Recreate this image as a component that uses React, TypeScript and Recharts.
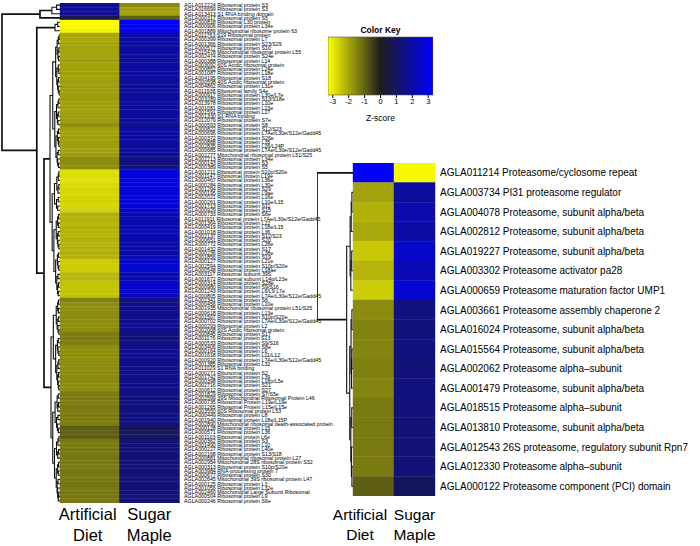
import { BarChart, Bar, Cell, XAxis, YAxis, ComposedChart, Scatter, Area } from 'recharts'

const FONT = '"Liberation Sans", Arial, Helvetica, sans-serif'

const columns = ['Artificial Diet', 'Sugar Maple']

// ribosomal genes (left panel), top to bottom
const riboLabels = [
  'AGLA012224 Ribosomal protein S3', 'AGLA016699 Ribosomal protein S3', 'AGLA013413 S1 RNA binding domain',
  'AGLA000317 Ribosomal protein S5', 'AGLA000818 Ribosomal L30 protein', 'AGLA000906 Ribosomal protein L34e',
  'AGLA001889 Mitochondrial ribosome protein 63', 'AGLA011763 S19 Ribosomal protein', 'AGLA000399 Ribosomal protein L7',
  'AGLA001366 Ribosomal protein S23/S29', 'AGLA000577 Ribosomal protein S10', 'AGLA015478 Mitochondrial ribosomal protein L55',
  'AGLA002474 Ribosomal protein S24e', 'AGLA000388 Ribosomal protein L14', 'AGLA003092 60S Acidic ribosomal protein',
  'AGLA000852 Ribosomal protein L24e', 'AGLA001087 Ribosomal protein L18e', 'AGLA004195 Ribosomal protein S18',
  'AGLA000598 40S Acidic ribosomal protein', 'AGLA004862 Ribosomal protein L31e', 'AGLA011938 Ribosomal family S4e',
  'AGLA000917 Ribosomal protein L30e/L7e', 'AGLA003289 Ribosomal protein S13/S18e', 'AGLA013978 Ribosomal protein L10e',
  'AGLA001081 Ribosomal protein L23e', 'AGLA001591 Ribosomal protein L27', 'AGLA001330 S1 RNA binding',
  'AGLA012079 Ribosomal protein S7e', 'AGLA000593 Ribosomal protein S8', 'AGLA000822 Ribosomal protein S12/S23',
  'AGLA000696 Ribosomal protein L7Ae/L30e/S12e/Gadd45', 'AGLA000372 Ribosomal protein S26e', 'AGLA000888 Ribosomal protein L35',
  'AGLA002835 Ribosomal protein L26/L24P', 'AGLA000685 Ribosomal protein L7Ae/L30e/S12e/Gadd45', 'AGLA002277 Mitochondrial ribosomal protein L51/S25',
  'AGLA002213 Ribosomal protein L34e', 'AGLA000143 Ribosomal protein S3', 'AGLA000389 Ribosomal protein S5',
  'AGLA001211 Ribosomal protein S10p/S20e', 'AGLA001147 Ribosomal protein L19e', 'AGLA000467 Ribosomal protein L36e',
  'AGLA000284 Ribosomal protein L30e', 'AGLA001294 Ribosomal protein S29', 'AGLA000195 Ribosomal protein L9ae',
  'AGLA002021 Ribosomal protein L16e', 'AGLA000261 Ribosomal protein L10e/L15', 'AGLA001713 Ribosomal protein S11',
  'AGLA000929 Ribosomal protein S15', 'AGLA000733 Ribosomal protein S6e', 'AGLA011911 Ribosomal protein L7Ae/L30e/S12e/Gadd45',
  'AGLA001364 Ribosomal protein L22', 'AGLA000419 Ribosomal protein L18e/L15', 'AGLA001018 Ribosomal protein L36',
  'AGLA002137 Ribosomal protein S12/S23', 'AGLA000651 Ribosomal protein S20', 'AGLA000772 Ribosomal protein L28e',
  'AGLA001432 Ribosomal protein S17', 'AGLA000236 Ribosomal protein L38e', 'AGLA001856 Ribosomal protein S19',
  'AGLA000127 Ribosomal protein L21e', 'AGLA002594 Ribosomal protein S10p/S20e', 'AGLA000548 Ribosomal protein L18ae',
  'AGLA003117 Ribosomal subunit 39S', 'AGLA001672 Ribosomal subunit L14p/L23e', 'AGLA000314 Ribosomal protein S28e',
  'AGLA000980 Ribosomal protein S9/S16', 'AGLA001243 Ribosomal protein L6/L9 L7e', 'AGLA000805 Ribosomal protein L7Ae/L30e/S12e/Gadd45',
  'AGLA002341 Ribosomal protein S6', 'AGLA000456 Ribosomal protein L10e', 'AGLA001935 Mitochondrial ribosomal protein L51/S25',
  'AGLA000618 Ribosomal protein L13e', 'AGLA001507 Ribosomal protein S10p/S20e', 'AGLA000702 Ribosomal protein L7Ae/L30e/S12e/Gadd45',
  'AGLA000293 Ribosomal protein L2', 'AGLA002008 60S Acidic ribosomal protein', 'AGLA000845 Ribosomal protein S17',
  'AGLA001176 Ribosomal protein S13', 'AGLA000533 Ribosomal protein S9/S16', 'AGLA003406 Ribosomal protein S8e',
  'AGLA000164 Ribosomal protein L6', 'AGLA001618 Ribosomal protein L11/L12', 'AGLA000920 Ribosomal protein L7Ae/L30e/S12e/Gadd45',
  'AGLA001385 Ribosomal protein L32', 'AGLA011029 S1 RNA binding', 'AGLA000271 Ribosomal protein S2',
  'AGLA001742 Ribosomal protein L39', 'AGLA000398 Ribosomal protein L18p/L5e', 'AGLA002716 Ribosomal protein S21',
  'AGLA000612 Ribosomal protein S27', 'AGLA001829 Ribosomal protein S7/S5e', 'AGLA002599 39S Mitochondrial Ribosomal Protein L46',
  'AGLA000735 Ribosomal Protein L19e/L19e', 'AGLA001265 Ribosomal Protein L15e/L15e', 'AGLA003550 60S Ribosomal protein L53',
  'AGLA000449 Ribosomal protein L8', 'AGLA001940 Ribosomal protein L18e/L15P', 'AGLA002890 Mitochondrial ribosomal death-associated protein',
  'AGLA000128 Ribosomal protein L15', 'AGLA000571 Ribosomal protein L36', 'AGLA001103 Ribosomal protein L6e',
  'AGLA000362 Ribosomal protein S3', 'AGLA001490 Ribosomal protein L10', 'AGLA000227 Ribosomal protein L40e',
  'AGLA002168 Ribosomal protein S13/S18', 'AGLA000881 Mitochondrial ribosomal protein L27', 'AGLA002954 Mitochondrial 28S ribosomal protein S32',
  'AGLA000313 Ribosomal protein S10p/S20e', 'AGLA003984 RNA-processing protein 7', 'AGLA000677 Ribosomal protein S30',
  'AGLA002645 Mitochondrial 39S ribosomal protein L47', 'AGLA000125 Ribosomal protein L3', 'AGLA001056 Ribosomal protein L32e',
  'AGLA002460 Mitochondrial Large Subunit Ribosomal', 'AGLA000504 Ribosomal protein L9', 'AGLA000246 Ribosomal protein S6e',
]

// z-scores, artificial diet column
const riboDiet = [
  1.73, 1.76, 1.78, 0.74, -3.3, -3.25, -3.11, -2.0, -2.03, -1.98,
  -1.96, -2.01, -1.94, -1.91, -1.97, -1.93, -1.89, -1.95, -1.9, -1.87,
  -1.91, -1.88, -1.85, -1.92, -1.89, -1.94, -1.9, -1.86, -1.67, -1.9,
  -1.93, -1.88, -1.91, -1.89, -1.92, -1.86, -1.62, -1.6, -1.63, -2.86,
  -2.8, -2.88, -2.75, -2.7, -2.73, -2.66, -2.64, -2.71, -2.62, -2.15,
  -2.18, -2.22, -2.16, -2.2, -2.26, -2.17, -2.21, -2.19, -2.14, -2.18,
  -2.55, -2.53, -2.57, -2.26, -2.24, -2.42, -2.44, -2.4, -2.43, -1.44,
  -1.62, -1.64, -1.6, -1.63, -1.61, -1.65, -1.62, -1.38, -1.37, -1.4,
  -1.62, -1.64, -1.61, -1.65, -1.63, -1.6, -1.62, -1.58, -1.61, -1.63,
  -1.6, -1.38, -1.37, -1.4, -1.36, -1.39, -1.37, -1.38, -1.4, -0.94,
  -0.96, -0.93, -1.32, -1.34, -1.31, -1.33, -1.3, -1.32, -1.35, -1.31,
  -1.33, -1.32, -1.3, -1.34, -1.32, -1.31, -1.33,
]

// z-scores, sugar maple column
const riboMaple = [
  -1.6, -1.9, -1.93, -0.96, 3.3, 3.24, 2.96, 1.93, 1.94, 1.91,
  1.89, 1.93, 1.87, 1.87, 1.9, 1.88, 1.86, 1.89, 1.87, 1.85,
  1.88, 1.86, 1.83, 1.88, 1.85, 1.89, 1.86, 1.84, 1.65, 1.88,
  1.89, 1.86, 1.87, 1.86, 1.88, 1.84, 1.46, 1.43, 1.47, 2.84,
  2.82, 2.86, 2.77, 2.73, 2.75, 2.7, 2.68, 2.72, 2.66, 2.09,
  2.11, 2.15, 2.09, 2.13, 2.18, 2.1, 2.15, 2.12, 2.08, 2.12,
  2.6, 2.57, 2.62, 2.2, 2.18, 2.5, 2.52, 2.46, 2.49, 1.34,
  1.61, 1.63, 1.6, 1.62, 1.6, 1.63, 1.61, 1.44, 1.43, 1.45,
  1.62, 1.63, 1.61, 1.64, 1.62, 1.6, 1.61, 1.58, 1.6, 1.62,
  1.59, 1.43, 1.42, 1.45, 1.41, 1.44, 1.43, 1.42, 1.44, 0.9,
  0.92, 0.91, 1.32, 1.33, 1.31, 1.33, 1.31, 1.32, 1.34, 1.31,
  1.32, 1.33, 1.3, 1.33, 1.32, 1.31, 1.32,
]

// proteasome genes (right panel)
const protLabels = [
  'AGLA011214 Proteasome/cyclosome repeat', 'AGLA003734 PI31 proteasome regulator',
  'AGLA004078 Proteasome, subunit alpha/beta', 'AGLA002812 Proteasome, subunit alpha/beta',
  'AGLA019227 Proteasome, subunit alpha/beta', 'AGLA003302 Proteasome activator pa28',
  'AGLA000659 Proteasome maturation factor UMP1', 'AGLA003661 Proteasome assembly chaperone 2',
  'AGLA016024 Proteasome, subunit alpha/beta', 'AGLA015564 Proteasome, subunit alpha/beta',
  'AGLA002062 Proteasome alpha\u2013subunit', 'AGLA001479 Proteasome, subunit alpha/beta',
  'AGLA018515 Proteasome alpha\u2013subunit', 'AGLA013810 Proteasome, subunit alpha/beta',
  'AGLA012543 26S proteasome, regulatory subunit Rpn7', 'AGLA012330 Proteasome alpha\u2013subunit',
  'AGLA000122 Proteasome component (PCI) domain',
]
const protDiet = [3.19, -1.93, -2.15, -2.04, -2.48, -2.2, -2.55, -1.6, -1.46, -1.5, -1.43, -1.5, -1.35, -1.35, -1.34, -1.36, -0.94]
const protMaple = [-3.19, 1.87, 2.09, 1.98, 2.53, 2.26, 2.64, 1.43, 1.38, 1.41, 1.34, 1.4, 1.32, 1.32, 1.31, 1.32, 0.94]

// row dendrograms: [merge height, left, right], leaves are row indices
const riboTree = [10,
  [3.45, [1.4, [0.6, 0, 1], 2], 3],
  [4.0,
    [0.86, [0.4, 4, 5], 6],
    [2.76,
      [1.72,
        [1.25,
          [0.75,
            [0.5, [0.3, [0.15, 7, 8], 9], [0.35, [0.2, 10, 11], [0.25, 12, 13]]],
            [0.55, [0.3, 14, [0.2, 15, 16]], [0.4, [0.25, 17, 18], [0.3, 19, [0.15, 20, 21]]]]],
          [0.9,
            [0.6, [0.35, [0.2, 22, 23], 24], [0.45, [0.3, 25, 26], [0.35, 27, 28]]],
            [0.7, [0.45, [0.25, 29, 30], [0.3, 31, [0.2, 32, 33]]], [0.5, [0.3, 34, 35], [0.4, 36, [0.25, 37, 38]]]]]],
        [1.35,
          [0.95,
            [0.55, [0.3, [0.2, 39, 40], 41], [0.35, [0.2, 42, 43], 44]],
            [0.6, [0.3, 45, 46], [0.4, 47, 48]]],
          [1.05,
            [0.65, [0.4, [0.25, 49, 50], [0.3, 51, 52]], [0.45, [0.3, 53, 54], [0.35, 55, [0.2, 56, 57]]]],
            [0.75, [0.45, [0.3, 58, 59], [0.35, 60, [0.2, 61, 62]]], [0.55, [0.35, 63, 64], [0.4, [0.25, 65, 66], [0.3, 67, 68]]]]]]],
      [1.55,
        [1.15,
          [0.65, [0.4, [0.25, 69, 70], [0.3, 71, 72]], [0.5, [0.3, 73, 74], [0.35, 75, [0.2, 76, 77]]]],
          [0.75, [0.45, [0.3, 78, 79], [0.35, 80, [0.2, 81, 82]]], [0.55, [0.35, [0.2, 83, 84], 85], [0.4, [0.25, 86, 87], [0.3, 88, [0.2, 89, 90]]]]]],
        [1.25,
          [0.85, [0.5, [0.3, 91, 92], [0.4, [0.25, 93, 94], 95]], [0.6, [0.35, 96, 97], [0.45, 98, [0.3, 99, 100]]]],
          [0.95,
            [0.6, [0.35, [0.2, 101, 102], 103], [0.4, [0.25, 104, 105], 106]],
            [0.65, [0.4, [0.25, 107, 108], [0.3, 109, 110]], [0.5, [0.35, 111, 112], [0.4, 113, [0.3, [0.2, 114, 115], 116]]]]]]]]]]

const protTree = [10, 0,
  [1.76,
    [0.8, [0.5, [0.3, 1, 2], 3], [0.6, [0.35, 4, 5], 6]],
    [0.9,
      [0.55, [0.3, 7, 8], [0.4, [0.3, 9, 10], 11]],
      [0.6, [0.35, 12, 13], [0.45, 14, [0.3, 15, 16]]]]]]

const keyTicks = [-3, -2, -1, 0, 1, 2, 3]
const zMax = 3.3

const LOW = [255, 255, 0]
const MID = [30, 30, 30]
const HIGH = [0, 0, 255]

function zColor(z: number) {
  const t = Math.max(-1, Math.min(1, z / zMax))
  const end = t < 0 ? LOW : HIGH
  const a = Math.abs(t)
  const c = MID.map((m, k) => Math.round(m + (end[k] - m) * a))
  return `rgb(${c.join(',')})`
}

type Pt = { x: number; y: number }
type Link = { h: number; pts: Pt[] }

// each merge becomes a bracket: child -> node height -> other child
function layoutTree(node: any, links: Link[]): { y: number; h: number } {
  if (typeof node === 'number') return { y: node + 0.5, h: 0 }
  const [h, a, b] = node
  const la = layoutTree(a, links)
  const lb = layoutTree(b, links)
  links.push({
    h,
    pts: [
      { x: la.h, y: la.y },
      { x: h, y: la.y },
      { x: h, y: lb.y },
      { x: lb.h, y: lb.y },
    ],
  })
  return { y: (la.y + lb.y) / 2, h }
}

const noDot = () => <g />

function Dendrogram({ tree, rows, hMax, width, height, top, bottom }: any) {
  const links: Link[] = []
  layoutTree(tree, links)
  return (
    <ComposedChart width={width} height={height} margin={{ top, bottom, left: 0, right: 0 }}>
      <XAxis type="number" dataKey="x" domain={[0, hMax]} reversed hide allowDataOverflow />
      <YAxis type="number" dataKey="y" domain={[0, rows]} reversed hide allowDataOverflow />
      {links.map((l, i) => (
        <Scatter
          key={i}
          data={l.pts}
          line={{ stroke: '#111', strokeWidth: l.h >= 2.5 ? 1.7 : 1.1 }}
          lineType="joint"
          shape={noDot}
          isAnimationActive={false}
        />
      ))}
    </ComposedChart>
  )
}

function ColTick({ x, y, payload, index, size, dy, dxs }: any) {
  const [l1, l2] = String(payload.value).split(' ')
  const cx = x + (dxs ? dxs[index] : 0)
  return (
    <text x={cx} y={y} textAnchor="middle" fontSize={size} fontFamily={FONT} fill="#000">
      <tspan x={cx} dy={dy}>{l1}</tspan>
      <tspan x={cx} dy={size * 1.3}>{l2}</tspan>
    </text>
  )
}

function RowTick({ x, y, payload, labels, size }: any) {
  return (
    <text x={x} y={y} dy="0.36em" textAnchor="start" fontSize={size} fontFamily={FONT} fill="#000">
      {labels[Math.floor(payload.value)]}
    </text>
  )
}

function Heatmap({ labels, diet, maple, height, top, bottom, left, cellWidth, labelWidth, fontSize, labelGap, colSize, colDy, colDx }: any) {
  const rows = labels.length
  const data = columns.map((col) => {
    const o: any = { col }
    labels.forEach((_: string, i: number) => (o[`r${i}`] = 1))
    return o
  })
  const values = [diet, maple]
  return (
    <BarChart
      width={left + cellWidth * 2 + labelWidth}
      height={height}
      data={data}
      margin={{ top, right: 0, left, bottom: 0 }}
      barCategoryGap={0}
      barGap={0}
    >
      <XAxis
        dataKey="col"
        height={bottom}
        axisLine={false}
        tickLine={false}
        tickSize={0}
        tickMargin={0}
        interval={0}
        tick={(p: any) => <ColTick {...p} size={colSize} dy={colDy} dxs={colDx} />}
      />
      <YAxis
        type="number"
        orientation="right"
        domain={[0, rows]}
        reversed
        allowDataOverflow
        width={labelWidth}
        ticks={labels.map((_: string, i: number) => i + 0.5)}
        interval={0}
        axisLine={false}
        tickLine={false}
        tickSize={0}
        tickMargin={labelGap}
        tick={(p: any) => <RowTick {...p} labels={labels} size={fontSize} />}
      />
      {labels.map((_: string, i: number) => (
        <Bar key={i} dataKey={`r${i}`} stackId="z" isAnimationActive={false}>
          {values.map((v: number[], c: number) => (
            <Cell key={c} fill={zColor(v[i])} stroke={zColor(v[i])} strokeWidth={0.4} />
          ))}
        </Bar>
      ))}
    </BarChart>
  )
}

const keyBand = [{ x: -zMax, y: 1 }, { x: zMax, y: 1 }]
const keyFrame = [{ x: -zMax, y: 0 }, { x: -zMax, y: 1 }, { x: zMax, y: 1 }, { x: zMax, y: 0 }, { x: -zMax, y: 0 }]

function ColorKey() {
  return (
    <ComposedChart width={160} height={130} margin={{ top: 23, right: 27, left: 28, bottom: 0 }}>
      <defs>
        <linearGradient id="keyGrad" x1="0" y1="0" x2="1" y2="0">
          <stop offset="0" stopColor={zColor(-zMax)} />
          <stop offset="0.5" stopColor={zColor(0)} />
          <stop offset="1" stopColor={zColor(zMax)} />
        </linearGradient>
      </defs>
      <XAxis
        xAxisId="title"
        orientation="top"
        type="number"
        domain={[-zMax, zMax]}
        height={14}
        tick={false}
        axisLine={false}
        tickLine={false}
        label={{ value: 'Color Key', position: 'center', fontSize: 8.5, fontWeight: 'bold', fill: '#000', fontFamily: FONT }}
      />
      <XAxis
        type="number"
        dataKey="x"
        domain={[-zMax, zMax]}
        ticks={keyTicks}
        interval={0}
        allowDataOverflow
        height={35}
        axisLine={false}
        tickSize={3}
        tickMargin={1}
        tickLine={{ stroke: '#000' }}
        tick={{ fontSize: 7.5, fill: '#000', fontFamily: FONT }}
        label={{ value: 'Z-score', position: 'insideBottom', offset: 9, fontSize: 8.5, fill: '#000', fontFamily: FONT }}
      />
      <YAxis type="number" dataKey="y" domain={[0, 1]} hide />
      <Area data={keyBand} dataKey="y" type="linear" fill="url(#keyGrad)" fillOpacity={1} stroke="none" isAnimationActive={false} />
      <Scatter data={keyFrame} line={{ stroke: '#555', strokeWidth: 0.6 }} lineType="joint" shape={noDot} isAnimationActive={false} />
    </ComposedChart>
  )
}

export default function App() {
  return (
    <div style={{ position: 'relative', width: 700, height: 546, background: '#fff', overflow: 'hidden', fontFamily: FONT }}>
      <style>{'body{margin:0}'}</style>
      <div style={{ position: 'absolute', left: 0, top: 0 }}>
        <Dendrogram tree={riboTree} rows={riboLabels.length} hMax={10.34} width={60} height={546} top={3} bottom={43} />
      </div>
      <div style={{ position: 'absolute', left: 40, top: 0 }}>
        <Heatmap
          labels={riboLabels}
          diet={riboDiet}
          maple={riboMaple}
          height={546}
          top={3}
          bottom={43}
          left={20}
          cellWidth={59.5}
          labelWidth={160}
          fontSize={5.3}
          labelGap={5}
          colSize={16.5}
          colDy={17}
          colDx={[-2, 0]}
        />
      </div>
      <div style={{ position: 'absolute', left: 300, top: 0 }}>
        <ColorKey />
      </div>
      <div style={{ position: 'absolute', left: 317, top: 0 }}>
        <Dendrogram tree={protTree} rows={protLabels.length} hMax={10} width={36} height={546} top={163} bottom={50} />
      </div>
      <div style={{ position: 'absolute', left: 313, top: 0 }}>
        <Heatmap
          labels={protLabels}
          diet={protDiet}
          maple={protMaple}
          height={546}
          top={163}
          bottom={50}
          left={40}
          cellWidth={41}
          labelWidth={265}
          fontSize={10}
          labelGap={5}
          colSize={15.5}
          colDy={24}
          colDx={[-13.5, 0]}
        />
      </div>
    </div>
  )
}
